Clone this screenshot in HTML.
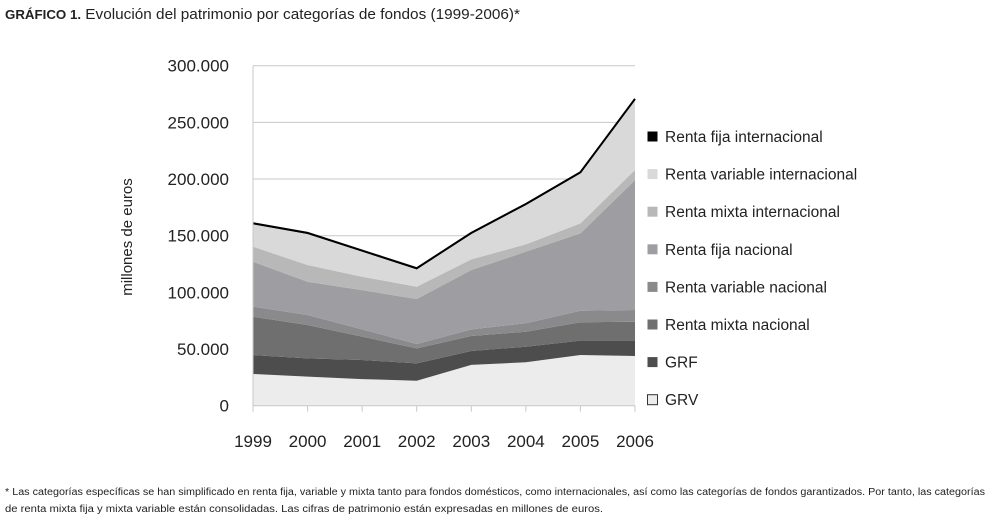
<!DOCTYPE html>
<html><head><meta charset="utf-8"><style>
html,body{margin:0;padding:0;background:#fff;}
svg{display:block;font-family:"Liberation Sans",sans-serif;}
</style></head><body>
<svg id="chart" width="990" height="517" viewBox="0 0 990 517">
<text x="5" y="19" font-size="15" fill="#222" textLength="515" lengthAdjust="spacingAndGlyphs"><tspan font-size="13" font-weight="bold">GRÁFICO 1.</tspan> Evolución del patrimonio por categorías de fondos (1999-2006)*</text>
<text transform="translate(132,237) rotate(-90)" text-anchor="middle" font-size="15" fill="#222">millones de euros</text>
<g id="grid"></g>
<g id="areas"></g>
<g id="axes"></g>
<g id="legend"></g>
<text x="5" y="495" font-size="10" fill="#222" textLength="980" lengthAdjust="spacingAndGlyphs">* Las categorías específicas se han simplificado en renta fija, variable y mixta tanto para fondos domésticos, como internacionales, así como las categorías de fondos garantizados. Por tanto, las categorías</text>
<text x="5" y="512" font-size="10" fill="#222" textLength="598" lengthAdjust="spacingAndGlyphs">de renta mixta fija y mixta variable están consolidadas. Las cifras de patrimonio están expresadas en millones de euros.</text>
</svg>
<script>
const years = ['1999','2000','2001','2002','2003','2004','2005','2006'];
const yTicks = [0,50,100,150,200,250,300];
const yTickLabels = ['0','50.000','100.000','150.000','200.000','250.000','300.000'];
const seriesNames = ['GRV','GRF','Renta mixta nacional','Renta variable nacional','Renta fija nacional','Renta mixta internacional','Renta variable internacional','Renta fija internacional'];
const seriesColors = ['#ececec','#4d4d4d','#6f6f6f','#8a8a8c','#9e9ea2','#b8b8b8','#d9d9d9','#000000'];
const grv = [28,25.6,23.5,22,36,38.3,44.7,43.9];
const grf = [16.7,16.2,16.8,15.4,12.3,13.7,12.7,13.5];
const rmn = [33.8,29.4,20.6,13.2,13.2,13.3,16.2,16.7];
const rvn = [8.9,8.8,6.5,3.8,5.9,7.4,10.2,10.3];
const rfn = [39.6,29.4,34.6,39.7,52.3,63.2,68.2,114.6];
const rmi = [13.3,14.7,11.8,10.9,9.4,6.5,8.9,9];
const rvi = [19.7,27.4,22.1,15.3,22.4,34.6,44.1,61.7];
const rfi = [1,1,1,1,1,1,1,1];
const series = [grv,grf,rmn,rvn,rfn,rmi,rvi,rfi];

const NS='http://www.w3.org/2000/svg';
const X0=253, X1=635, Y0=405.7, Y1=65.7, YMAX=300;
const xs = i => X0 + (X1-X0)*i/(years.length-1);
const ys = v => Y0 - (Y0-Y1)*v/YMAX;
function mk(tag, attrs, parent){const e=document.createElementNS(NS,tag);for(const k in attrs)e.setAttribute(k,attrs[k]);parent.appendChild(e);return e;}

const grid=document.getElementById('grid');
yTicks.forEach((t,i)=>{
  if(t>0){const l=mk('line',{x1:X0,x2:X1,y1:ys(t),y2:ys(t),stroke:'#c8c8c8','stroke-width':1},grid);
  
  }
  const tx=mk('text',{x:229,y:ys(t)+6,'text-anchor':'end','font-size':17,fill:'#222'},grid);
  tx.textContent=yTickLabels[i];
  
  
});

const areas=document.getElementById('areas');
let base = years.map(()=>0);
const tops=[];
series.forEach((s,k)=>{
  const top = base.map((b,i)=>b+s[i]);
  let d='';
  top.forEach((v,i)=>{d+=(i?'L':'M')+xs(i)+','+ys(v);});
  for(let i=years.length-1;i>=0;i--) d+='L'+xs(i)+','+ys(base[i]);
  d+='Z';
  const p=mk('path',{d:d,fill:seriesColors[k]},areas);
  
  
  tops.push(top);
  base=top;
});
let dl='';
base.forEach((v,i)=>{dl+=(i?'L':'M')+xs(i)+','+ys(v);});
const tl=mk('path',{d:dl,fill:'none',stroke:'#000','stroke-width':2},areas);



const axes=document.getElementById('axes');
const ya=mk('line',{x1:X0,x2:X0,y1:Y1,y2:Y0,stroke:'#c8c8c8','stroke-width':1},axes);


const xa=mk('line',{x1:X0,x2:X1,y1:Y0,y2:Y0,stroke:'#c8c8c8','stroke-width':1},axes);


years.forEach((y,i)=>{
  const tk=mk('line',{x1:xs(i),x2:xs(i),y1:Y0,y2:Y0+6,stroke:'#c8c8c8'},axes);
  
  
  const t=mk('text',{x:xs(i),y:447,'text-anchor':'middle','font-size':17,fill:'#222'},axes);
  t.textContent=y;
  
  
});

const legend=document.getElementById('legend');
for(let k=series.length-1,r=0;k>=0;k--,r++){
  const y=137+r*37.6;
  const g=mk('g',{},legend);
  
  
  mk('rect',{x:647.5,y:y-5.5,width:10,height:10,fill:seriesColors[k],stroke:k===0?'#333':'none','stroke-width':1},g);
  const t=mk('text',{x:665,y:y+5,'font-size':15.5,fill:'#222'},g);
  t.textContent=seriesNames[k];
}
</script>
</body></html>
